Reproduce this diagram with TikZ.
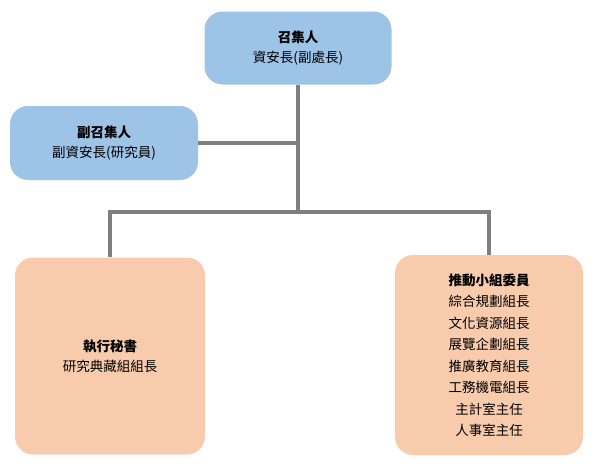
\documentclass[tikz,border=0pt]{standalone}
\usepackage{fontspec}
\setmainfont{Noto Sans CJK TC}
\usepackage{tikz}
\definecolor{bluebox}{HTML}{9DC3E6}
\definecolor{peachbox}{HTML}{F8CBAD}
\definecolor{linkgray}{HTML}{7F7F7F}
\tikzset{
  unit/.style={rounded corners=18pt, draw=none, align=center, font=\fontsize{13.5}{20}\selectfont},
  link/.style={draw=linkgray, line width=4.5pt},
}
\begin{document}
\begin{tikzpicture}[x=1pt, y=-1pt]
    \useasboundingbox (0, 0) rectangle (602, 469);

    \node[unit, fill=bluebox, minimum width=187pt, minimum height=73pt] (chief) at (298, 48) {\textbf{召集人}\\資安長(副處長)};
    \node[unit, fill=bluebox, minimum width=188pt, minimum height=74pt] (deputy) at (104, 143) {\textbf{副召集人}\\副資安長(研究員)};
    \node[unit, fill=peachbox, minimum width=190pt, minimum height=197pt] (secretary) at (110, 356) {\textbf{執行秘書}\\研究典藏組組長};
    \node[unit, fill=peachbox, minimum width=188pt, minimum height=200pt, font=\fontsize{13.5}{21.5}\selectfont] (members) at (489, 355)
      {\textbf{推動小組委員}\\綜合規劃組長\\文化資源組長\\展覽企劃組長\\推廣教育組長\\工務機電組長\\主計室主任\\人事室主任};

    \coordinate (split) at (298, 212);
    \draw[link] (chief.south) -- (split);
    \draw[link] (deputy.east) -- (deputy.east -| chief.south);
    \draw[link] (secretary.north) |- (split) -| (members.north);
\end{tikzpicture}
\end{document}
